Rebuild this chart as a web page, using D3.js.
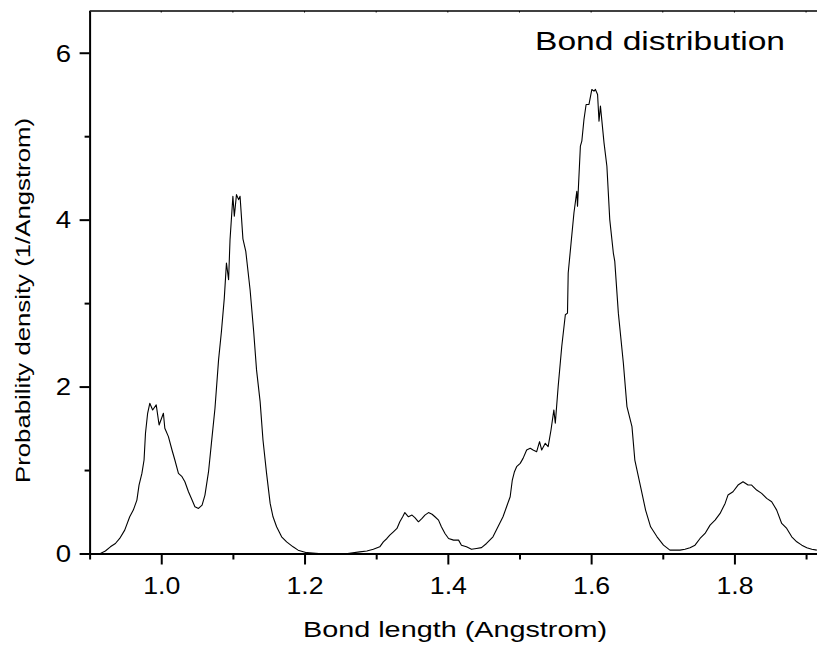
<!DOCTYPE html>
<html>
<head>
<meta charset="utf-8">
<script src="https://cdn.jsdelivr.net/npm/d3@7"></script>
<style>
  body { margin: 0; background: #fff; }
  svg { display: block; font-family: "Liberation Sans", Arial, sans-serif; }
</style>
</head>
<body>
<div id="chart"></div>
<script>
// bond length values (Angstrom)
var bondLength = [
  0.900, 0.915, 0.922, 0.929, 0.936, 0.942, 0.949, 0.956, 0.961, 0.966,
  0.969, 0.973, 0.976, 0.978, 0.981, 0.984, 0.988, 0.993, 0.997, 1.003,
  1.005, 1.010, 1.015, 1.019, 1.024, 1.029, 1.033, 1.038, 1.043, 1.047,
  1.052, 1.057, 1.061, 1.066, 1.070, 1.075, 1.080, 1.084, 1.088, 1.091,
  1.094, 1.096, 1.100, 1.102, 1.105, 1.108, 1.110, 1.114, 1.118, 1.124,
  1.129, 1.133, 1.138, 1.142, 1.147, 1.152, 1.156, 1.161, 1.168, 1.175,
  1.184, 1.191, 1.203, 1.220, 1.240, 1.260, 1.277, 1.287, 1.296, 1.305,
  1.310, 1.315, 1.319, 1.324, 1.329, 1.333, 1.337, 1.340, 1.345, 1.350,
  1.354, 1.359, 1.364, 1.368, 1.373, 1.378, 1.382, 1.387, 1.391, 1.396,
  1.401, 1.408, 1.415, 1.419, 1.426, 1.433, 1.440, 1.447, 1.454, 1.463,
  1.470, 1.477, 1.482, 1.487, 1.490, 1.493, 1.496, 1.501, 1.505, 1.510,
  1.515, 1.519, 1.524, 1.528, 1.531, 1.536, 1.540, 1.544, 1.548, 1.550,
  1.554, 1.559, 1.564, 1.567, 1.568, 1.572, 1.576, 1.580, 1.581, 1.585,
  1.587, 1.590, 1.593, 1.597, 1.601, 1.604, 1.606, 1.609, 1.611, 1.613,
  1.618, 1.622, 1.626, 1.631, 1.633, 1.638, 1.645, 1.650, 1.657, 1.661,
  1.669, 1.676, 1.683, 1.692, 1.701, 1.710, 1.719, 1.724, 1.731, 1.738,
  1.745, 1.752, 1.759, 1.766, 1.773, 1.780, 1.787, 1.791, 1.798, 1.805,
  1.812, 1.819, 1.824, 1.831, 1.838, 1.845, 1.852, 1.859, 1.866, 1.873,
  1.880, 1.887, 1.894, 1.901, 1.908, 1.915
];

// probability density (1/Angstrom) at each bond length
var density = [
  0.00, 0.00, 0.03, 0.08, 0.12, 0.18, 0.28, 0.44, 0.52, 0.64,
  0.82, 0.96, 1.12, 1.44, 1.68, 1.80, 1.72, 1.78, 1.54, 1.68,
  1.50, 1.40, 1.24, 1.12, 0.96, 0.92, 0.86, 0.74, 0.64, 0.56,
  0.54, 0.58, 0.70, 0.98, 1.32, 1.74, 2.32, 2.66, 3.06, 3.48,
  3.28, 3.76, 4.28, 4.04, 4.30, 4.24, 4.28, 3.77, 3.62, 3.16,
  2.66, 2.20, 1.82, 1.36, 0.96, 0.60, 0.44, 0.32, 0.20, 0.14,
  0.08, 0.04, 0.01, 0.00, 0.00, 0.00, 0.02, 0.03, 0.05, 0.08,
  0.14, 0.18, 0.22, 0.26, 0.30, 0.38, 0.44, 0.49, 0.44, 0.46,
  0.43, 0.38, 0.42, 0.46, 0.49, 0.47, 0.44, 0.40, 0.32, 0.24,
  0.18, 0.16, 0.16, 0.10, 0.08, 0.05, 0.06, 0.07, 0.12, 0.20,
  0.32, 0.44, 0.56, 0.68, 0.88, 0.98, 1.04, 1.08, 1.14, 1.24,
  1.26, 1.24, 1.22, 1.34, 1.24, 1.32, 1.28, 1.48, 1.72, 1.56,
  2.00, 2.48, 2.86, 2.88, 3.36, 3.72, 4.08, 4.34, 4.16, 4.88,
  4.94, 5.20, 5.38, 5.38, 5.56, 5.54, 5.56, 5.50, 5.18, 5.36,
  4.92, 4.64, 4.00, 3.60, 3.50, 2.88, 2.28, 1.76, 1.52, 1.12,
  0.80, 0.52, 0.32, 0.20, 0.10, 0.04, 0.04, 0.04, 0.05, 0.07,
  0.10, 0.18, 0.24, 0.34, 0.40, 0.48, 0.60, 0.70, 0.74, 0.82,
  0.86, 0.82, 0.82, 0.76, 0.72, 0.66, 0.62, 0.52, 0.36, 0.30,
  0.20, 0.14, 0.10, 0.07, 0.05, 0.04
];

// tick values
var xMajorTicks = [1.0, 1.2, 1.4, 1.6, 1.8];
var xMinorTicks = [0.9, 1.1, 1.3, 1.5, 1.7, 1.9];
var yMajorTicks = [0, 2, 4, 6];
var yMinorTicks = [1, 3, 5];

var W = 817, H = 646;
var plot = {left: 89.6, top: 11, bottom: 553.5, right: 820.4};

var svg = d3.select('#chart').append('svg')
  .attr('width', W).attr('height', H);

var x = d3.scaleLinear().domain([0.9, 1.92]).range([plot.left, plot.right]);
var y = d3.scaleLinear().domain([0, 6.5]).range([plot.bottom, plot.top]);

// top frame line with tiny inward ticks
svg.append('line')
  .attr('x1', plot.left).attr('x2', W + 5)
  .attr('y1', plot.top).attr('y2', plot.top)
  .attr('stroke', '#000').attr('stroke-width', 1.5);
svg.append('g')
  .selectAll('line')
  .data(xMajorTicks.concat(xMinorTicks))
  .join('line')
  .attr('x1', function (d) { return x(d); })
  .attr('x2', function (d) { return x(d); })
  .attr('y1', plot.top).attr('y2', plot.top + 1.5)
  .attr('stroke', '#000').attr('stroke-width', 1);

// x axis: major + minor
var gx = svg.append('g').attr('transform', 'translate(0,' + plot.bottom + ')');
gx.call(d3.axisBottom(x).tickValues(xMajorTicks).tickFormat(d3.format('.1f'))
  .tickSizeInner(11).tickSizeOuter(0).tickPadding(13.5));
gx.append('g').call(d3.axisBottom(x).tickValues(xMinorTicks).tickFormat('')
  .tickSizeInner(6).tickSizeOuter(0))
  .select('.domain').remove();

// y axis: major + minor
var gy = svg.append('g').attr('transform', 'translate(' + plot.left + ',0)');
gy.call(d3.axisLeft(y).tickValues(yMajorTicks).tickFormat(d3.format('d'))
  .tickSizeInner(10).tickSizeOuter(0).tickPadding(5.5));
gy.append('g').call(d3.axisLeft(y).tickValues(yMinorTicks).tickFormat('')
  .tickSizeInner(5).tickSizeOuter(0))
  .select('.domain').remove();

svg.selectAll('.domain').attr('stroke', '#000').attr('stroke-width', 2);
svg.selectAll('.tick line').attr('stroke', '#000').attr('stroke-width', 2);
svg.selectAll('.tick text')
  .attr('font-family', '"Liberation Sans", Arial, sans-serif')
  .attr('font-size', 23).attr('fill', '#000');
// tick labels in the picture are wider than plain Arial
gx.selectAll('.tick text').attr('transform', 'scale(1.16,1)');
gy.selectAll('.tick text').attr('transform', 'scale(1.2,1)').attr('dy', '0.36em');

// the curve
var pts = d3.zip(bondLength, density);
var line = d3.line()
  .x(function (d) { return x(d[0]); })
  .y(function (d) { return y(d[1]); });

svg.append('path')
  .datum(pts)
  .attr('fill', 'none')
  .attr('stroke', '#000')
  .attr('stroke-width', 1.1)
  .attr('stroke-linejoin', 'round')
  .attr('d', line);

// titles
svg.append('text')
  .attr('x', 535).attr('y', 50)
  .attr('font-size', 25)
  .attr('textLength', 250).attr('lengthAdjust', 'spacingAndGlyphs')
  .text('Bond distribution');

svg.append('text')
  .attr('x', 303).attr('y', 637)
  .attr('font-size', 22)
  .attr('textLength', 304).attr('lengthAdjust', 'spacingAndGlyphs')
  .text('Bond length (Angstrom)');

svg.append('text')
  .attr('transform', 'translate(30,483) rotate(-90)')
  .attr('font-size', 21)
  .attr('textLength', 365).attr('lengthAdjust', 'spacingAndGlyphs')
  .text('Probability density (1/Angstrom)');
</script>
</body>
</html>
